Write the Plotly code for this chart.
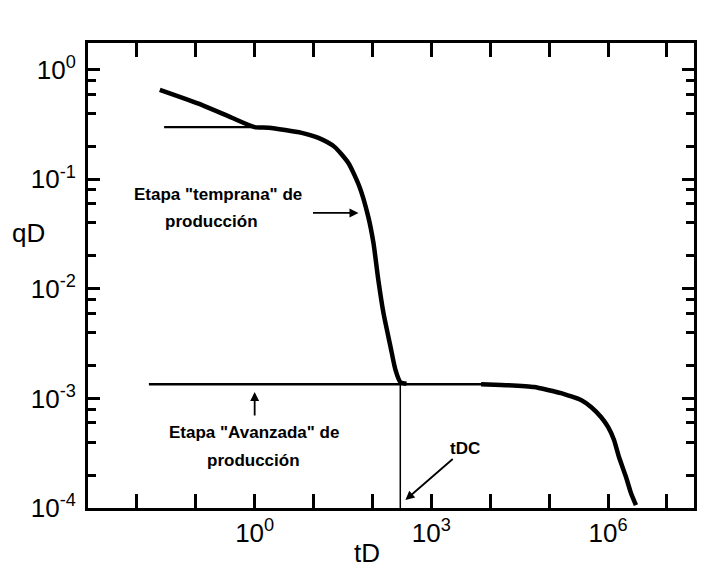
import plotly.graph_objects as go

# Early production curve (tD, qD)
early_t = [0.0245, 0.126, 0.41, 1.0, 1.73, 6.3, 12.1, 22.7, 39, 60, 85, 104, 126, 154, 203, 246, 297, 378]
early_q = [0.656, 0.479, 0.365, 0.30, 0.296, 0.266, 0.239, 0.198, 0.141, 0.086, 0.0455, 0.0263,
           0.012, 0.0060, 0.00295, 0.00182, 0.00141, 0.00136]

# Early flat reference line
early_flat_t = [0.029, 2.0]
early_flat_q = [0.30, 0.30]

# Advanced stage flat line
late_flat_t = [0.016, 15350]
late_flat_q = [0.00135, 0.00135]

# Advanced stage decline
late_t = [7000, 15350, 55700, 159600, 348000, 515000, 760000, 1.0e6, 1.265e6,
          1.536e6, 2.02e6, 2.45e6, 2.98e6]
late_q = [0.00135, 0.00133, 0.00127, 0.00112, 0.000969, 0.000836, 0.000677, 0.000549,
          0.000418, 0.000292, 0.000192, 0.000137, 0.000106]

# tDC vertical marker
tdc_t = [297, 297]
tdc_q = [0.00135, 0.0001]

# Tick definitions
x_major = [1.0, 1e3, 1e6]
x_labels = ["10<sup>0</sup>", "10<sup>3</sup>", "10<sup>6</sup>"]
x_minor = [1e-2, 1e-1, 1e1, 1e2, 1e4, 1e5, 1e7]
y_major = [1e-4, 1e-3, 1e-2, 1e-1, 1.0]
y_labels = ["10<sup>-4</sup>", "10<sup>-3</sup>", "10<sup>-2</sup>", "10<sup>-1</sup>", "10<sup>0</sup>"]
y_minor = [m * 10.0 ** e for e in range(-4, 1) for m in (2, 4, 6, 8)]

fig = go.Figure()
fig.add_trace(go.Scatter(x=early_flat_t, y=early_flat_q, mode="lines",
                         line=dict(color="black", width=2.2), hoverinfo="skip"))
fig.add_trace(go.Scatter(x=late_flat_t, y=late_flat_q, mode="lines",
                         line=dict(color="black", width=2.5), hoverinfo="skip"))
fig.add_trace(go.Scatter(x=tdc_t, y=tdc_q, mode="lines",
                         line=dict(color="black", width=1.5), hoverinfo="skip"))
fig.add_trace(go.Scatter(x=early_t, y=early_q, mode="lines",
                         line=dict(color="black", width=4.5, shape="spline", smoothing=0.6)))
fig.add_trace(go.Scatter(x=late_t, y=late_q, mode="lines",
                         line=dict(color="black", width=4.5, shape="spline", smoothing=0.4)))

axis_font = dict(family="Liberation Sans, Arial", size=26, color="black")
fig.update_xaxes(type="log", range=[-2.83, 7.46], tickmode="array", tickvals=x_major,
                 ticktext=x_labels, ticks="inside", ticklen=14, tickwidth=2.5,
                 tickcolor="black", showline=True, linewidth=3, linecolor="black",
                 mirror="allticks", showgrid=False, zeroline=False, tickfont=axis_font,
                 minor=dict(tickmode="array", tickvals=x_minor, ticks="inside", ticklen=14,
                            tickwidth=2.5, tickcolor="black", showgrid=False))
fig.update_yaxes(type="log", range=[-4.0, 0.245], tickmode="array", tickvals=y_major,
                 ticktext=y_labels, ticks="inside", ticklen=12, tickwidth=2.5,
                 tickcolor="black", showline=True, linewidth=3, linecolor="black",
                 mirror="allticks", showgrid=False, zeroline=False, tickfont=axis_font,
                 ticklabelstandoff=4,
                 minor=dict(tickmode="array", tickvals=y_minor, ticks="inside", ticklen=8,
                            tickwidth=2.5, tickcolor="black", showgrid=False))

ann_font = dict(family="Liberation Sans, Arial", size=17, color="black")
anns = [
    dict(x=-0.627, y=-1.142, text="<b>Etapa \"temprana\" de</b>"),
    dict(x=-0.729, y=-1.385, text="<b>producción</b>"),
    dict(x=-0.017, y=-3.315, text="<b>Etapa \"Avanzada\" de</b>"),
    dict(x=-0.017, y=-3.562, text="<b>producción</b>"),
]
for a in anns:
    fig.add_annotation(xref="x", yref="y", showarrow=False, font=ann_font,
                       xanchor="center", yanchor="middle", **a)

# tDC label with its arrow
fig.add_annotation(xref="x", yref="y", x=2.56, y=-3.927, ax=60, ay=-52,
                   text="<b>tDC</b>", font=ann_font, showarrow=True, arrowhead=2,
                   arrowsize=1, arrowwidth=1.8, arrowcolor="black")

arrows = [
    dict(x=1.763, y=-1.306, ax=-47, ay=0),
    dict(x=0.0, y=-2.94, ax=0, ay=25),
]
for a in arrows:
    fig.add_annotation(xref="x", yref="y", text="", showarrow=True, arrowhead=2,
                       arrowsize=1, arrowwidth=1.8, arrowcolor="black", **a)

fig.add_annotation(xref="paper", yref="paper", x=-0.099, y=0.591, text="qD",
                   showarrow=False, font=axis_font, xanchor="center", yanchor="middle")
fig.add_annotation(xref="paper", yref="paper", x=0.460, y=-0.097, text="tD",
                   showarrow=False, font=axis_font, xanchor="center", yanchor="middle")

fig.update_layout(width=701, height=563, showlegend=False,
                  margin=dict(l=80, r=15, t=35, b=63),
                  paper_bgcolor="white", plot_bgcolor="white")
fig.write_html("out.html")
